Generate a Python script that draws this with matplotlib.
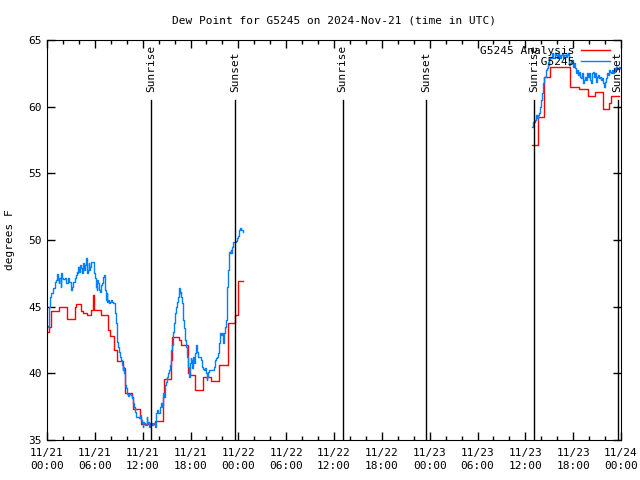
import numpy as np
import matplotlib
matplotlib.use("Agg")
import matplotlib.pyplot as plt
import matplotlib.dates as mdates

# hours after 2024-11-21 00:00 UTC
obs_day1_hours = [
    0.0, 0.13, 0.21, 0.29, 0.38, 0.46, 0.63, 0.79, 0.96, 1.13, 1.21, 1.30, 1.38, 1.46, 1.55,
    1.72, 1.80, 1.92, 2.05, 2.22, 2.38, 2.55, 2.64, 2.76, 2.89, 3.05, 3.14, 3.30, 3.47, 3.60,
    3.72, 3.81, 3.89, 4.06, 4.14, 4.22, 4.35, 4.48, 4.56, 4.64, 4.73, 4.81, 4.89, 4.98, 5.06,
    5.14, 5.23, 5.31, 5.40, 5.48, 5.56, 5.69, 5.81, 5.90, 5.98, 6.11, 6.23, 6.32, 6.44, 6.53,
    6.65, 6.73, 6.82, 6.94, 7.07, 7.15, 7.24, 7.32, 7.40, 7.49, 7.57, 7.65, 7.78, 7.91, 8.07,
    8.20, 8.32, 8.49, 8.57, 8.66, 8.74, 8.83, 8.95, 9.08, 9.16, 9.29, 9.41, 9.49, 9.58, 9.66,
    9.75, 9.83, 9.91, 10.0, 10.08, 10.21, 10.33, 10.50, 10.62, 10.75, 10.83, 10.92, 11.04, 11.17,
    11.33, 11.50, 11.59, 11.67, 11.75, 11.88, 12.0, 12.09, 12.21, 12.34, 12.51, 12.59, 12.71,
    12.84, 12.92, 13.13, 13.34, 13.55, 13.67, 13.84, 13.97, 14.17, 14.30, 14.43, 14.51, 14.59,
    14.68, 14.80, 14.93, 15.09, 15.22, 15.35, 15.43, 15.51, 15.60, 15.68, 15.76, 15.85, 15.93,
    16.06, 16.18, 16.27, 16.39, 16.52, 16.60, 16.68, 16.77, 16.85, 16.94, 17.02, 17.10, 17.19,
    17.27, 17.35, 17.44, 17.52, 17.65, 17.77, 17.86, 17.94, 18.03, 18.11, 18.19, 18.28, 18.36,
    18.49, 18.61, 18.69, 18.78, 18.86, 18.95, 19.03, 19.20, 19.32, 19.45, 19.62, 19.74, 19.87,
    19.95, 20.03, 20.12, 20.20, 20.37, 20.58, 20.79, 20.99, 21.12, 21.20, 21.29, 21.41, 21.54,
    21.62, 21.71, 21.83, 21.96, 22.04, 22.12, 22.25, 22.38, 22.46, 22.54, 22.63, 22.71, 22.79,
    22.88, 22.96, 23.04, 23.13, 23.21, 23.30, 23.42, 23.55, 23.71, 23.84, 23.92, 24.05, 24.13,
    24.26, 24.38, 24.55,
]
obs_day1_dewpt = [
    43.55, 43.5, 44.25, 45.0, 45.75, 46.0, 46.05, 46.38, 46.88, 47.0, 47.38, 47.45, 47.0, 46.75, 47.13,
    46.5, 47.5, 47.13, 47.05, 47.13, 46.75, 46.75, 47.13, 46.88, 46.88, 46.25, 46.5, 46.88, 47.13, 47.38,
    47.63, 47.5, 48.0, 47.63, 48.13, 47.88, 47.5, 47.88, 48.25, 47.75, 48.0, 48.13, 48.63, 48.13, 47.5,
    47.75, 48.25, 47.75, 48.0, 48.13, 48.38, 48.38, 48.38, 47.5, 47.13, 46.5, 46.25, 47.0, 46.75, 46.25,
    46.13, 46.5, 46.63, 46.75, 47.25, 47.38, 47.0, 46.25, 45.5, 46.0, 45.38, 45.5, 45.25, 45.38, 45.5,
    45.38, 45.25, 45.25, 44.5, 43.75, 42.75, 42.38, 42.0, 41.63, 41.25, 41.0, 40.63, 40.25, 40.5, 40.0,
    39.5, 39.13, 38.88, 38.5, 38.45, 38.3, 38.45, 38.38, 38.13, 37.88, 37.75, 37.5, 37.13, 36.75,
    36.75, 36.75, 36.63, 36.88, 36.5, 36.25, 36.0, 36.38, 36.25, 36.13, 36.75, 36.25, 36.38,
    36.0, 36.25, 36.13, 36.3, 36.0, 37.0, 37.25, 37.0, 37.5, 37.75, 37.5, 38.25, 38.5,
    38.25, 39.13, 39.38, 39.75, 40.0, 40.25, 40.63, 41.25, 41.75, 42.13, 42.75, 43.13, 43.75,
    44.5, 45.0, 45.38, 45.75, 46.13, 46.38, 46.0, 46.13, 45.75, 45.25, 44.75, 44.0, 43.38,
    42.75, 42.5, 42.0, 41.25, 40.5, 40.0, 39.75, 40.75, 41.13, 41.0, 40.38, 40.5, 41.25,
    40.75, 41.5, 42.13, 41.88, 41.63, 41.25, 41.25, 41.25, 41.0, 40.5, 40.3, 40.25, 40.38,
    40.0, 39.5, 39.75, 40.13, 40.25, 40.25, 40.25, 40.5, 41.0, 41.13, 41.25, 41.5, 41.63,
    42.25, 43.0, 42.88, 43.0, 42.88, 42.25, 43.0, 43.5, 44.0, 45.0, 46.5, 47.75, 48.75,
    49.13, 49.0, 49.25, 49.0, 49.5, 49.88, 49.88, 49.88, 49.95, 50.13, 50.3, 50.5, 50.75,
    50.88, 50.75, 50.63,
]

obs_day3_hours = [
    60.85, 60.94, 61.02, 61.15, 61.27, 61.35, 61.48, 61.61, 61.77, 61.86, 61.98, 62.11, 62.19,
    62.27, 62.40, 62.53, 62.61, 62.73, 62.86, 62.94, 63.03, 63.11, 63.24, 63.36, 63.45, 63.53,
    63.66, 63.78, 63.86, 63.95, 64.07, 64.20, 64.28, 64.41, 64.53, 64.62, 64.70, 64.83, 64.91,
    65.04, 65.12, 65.20, 65.33, 65.45, 65.54, 65.66, 65.79, 65.99, 66.12, 66.25, 66.37, 66.50,
    66.62, 66.75, 66.87, 67.0, 67.12, 67.25, 67.38, 67.50, 67.63, 67.75, 67.88, 67.96, 68.09,
    68.21, 68.34, 68.46, 68.59, 68.71, 68.84, 68.96, 69.09, 69.22, 69.34, 69.47, 69.59, 69.72,
    69.84, 69.97, 70.09, 70.22, 70.34, 70.47, 70.60, 70.72, 70.85, 70.97, 71.10, 71.22, 71.35,
    71.47, 71.60, 71.75, 71.90,
]
obs_day3_dewpt = [
    58.45, 58.63, 58.88, 59.0, 59.0, 59.38, 59.13, 59.38, 59.5, 60.0, 60.5, 61.0, 61.38,
    61.75, 62.25, 62.63, 62.75, 62.88, 63.38, 63.13, 63.5, 63.75, 63.63, 64.0, 63.75, 63.63,
    63.88, 64.0, 63.88, 63.63, 64.0, 63.75, 63.88, 63.63, 63.88, 64.0, 63.63, 63.75, 63.88,
    64.0, 63.75, 63.88, 64.0, 63.63, 63.13, 63.25, 63.5, 63.0, 63.25, 62.88, 62.5, 62.75,
    62.38, 62.63, 62.25, 62.13, 62.5, 61.75, 62.0, 62.25, 62.0, 62.5, 62.25, 62.5, 62.0,
    61.75, 62.5, 62.63, 62.25, 62.5, 61.88, 62.25, 62.38, 62.13, 62.25, 62.0, 62.13, 61.75,
    61.5, 61.88, 62.13, 62.5, 62.38, 62.75, 62.63, 62.5, 62.75, 62.5, 62.88, 62.75, 63.0,
    62.88, 62.8, 63.0, 62.9,
]

# analysis: step start hours and values (last entry closes the step)
ana_day1_hours = [
    0.0, 0.25, 0.55, 1.5, 2.5, 3.5, 3.68, 4.22, 4.52, 5.06, 5.48, 5.77, 5.9, 6.73, 7.65,
    7.86, 8.45, 8.8, 9.5, 9.79, 10.71, 10.85, 11.67, 11.8, 13.6, 14.6, 14.7, 15.5, 15.64,
    16.6, 16.77, 17.68, 17.9, 18.6, 19.53, 20.55, 21.62, 22.65, 23.6, 23.9, 24.55,
]
ana_day1_dewpt = [
    43.1, 43.5, 44.7, 45.0, 44.1, 45.0, 45.2, 44.7, 44.55, 44.4, 44.75, 45.9, 44.75, 44.4, 43.25,
    42.8, 41.75, 40.95, 40.4, 38.5, 38.25, 37.3, 36.75, 36.2, 36.45, 38.25, 39.6, 41.0, 42.7,
    42.5, 42.1, 40.0, 39.9, 38.75, 39.75, 39.4, 40.6, 43.75, 44.4, 46.9, 46.9,
]
ana_day3_hours = [60.8, 61.6, 62.4, 63.1, 65.6, 66.79, 67.8, 68.72, 69.72, 70.45, 70.7, 71.7]
ana_day3_dewpt = [57.1, 59.2, 62.2, 62.95, 61.45, 61.3, 60.8, 61.1, 59.85, 60.3, 60.8, 60.8]

sun_times = ["2024-11-21T13:03", "2024-11-21T23:35", "2024-11-22T13:04",
             "2024-11-22T23:35", "2024-11-23T13:05", "2024-11-23T23:35"]
sun_labels = ["Sunrise", "Sunset", "Sunrise", "Sunset", "Sunrise", "Sunset"]

start = np.datetime64("2024-11-21T00:00")


def to_time(hours):
    return start + (np.array(hours) * 3600).astype("timedelta64[s]")


plt.rcParams["font.family"] = ["DejaVu Sans Mono"]
plt.rcParams["font.size"] = 8

fig = plt.figure(figsize=(6.4, 4.8), dpi=100)
ax = fig.add_axes([47 / 640, 40 / 480, 574 / 640, 400 / 480])

red = "#ff0000"
blue = "#0080ff"

ax.step(to_time(ana_day1_hours), ana_day1_dewpt, where="post", color=red, lw=1.0,
        label="G5245 Analysis")
ax.step(to_time(ana_day3_hours), ana_day3_dewpt, where="post", color=red, lw=1.0)
ax.step(to_time(obs_day1_hours), obs_day1_dewpt, where="post", color=blue, lw=1.0,
        label="         G5245")
ax.step(to_time(obs_day3_hours), obs_day3_dewpt, where="post", color=blue, lw=1.0)

# sunrise / sunset markers
for t, lab in zip(sun_times, sun_labels):
    x = np.datetime64(t)
    ax.plot([x, x], [0, 0.85], color="black", lw=1.0,
            transform=ax.get_xaxis_transform())
    ax.text(x, 0.87, lab, rotation=90, ha="center", va="bottom",
            transform=ax.get_xaxis_transform())

ax.set_xlim(to_time([0])[0], to_time([72])[0])
ax.set_ylim(35, 65)
ax.set_yticks(np.arange(35, 66, 5))
ax.xaxis.set_major_locator(mdates.HourLocator(byhour=range(0, 24, 6)))
ax.xaxis.set_minor_locator(mdates.HourLocator(byhour=range(0, 24, 2)))
ax.xaxis.set_major_formatter(mdates.DateFormatter("%m/%d\n%H:%M"))
ax.tick_params(which="both", direction="in", top=True, right=True, labelsize=8)
ax.tick_params(which="major", length=6, width=1)
ax.tick_params(which="minor", length=3, width=1)
ax.tick_params(axis="x", pad=6)
for lbl in ax.get_xticklabels():
    lbl.set_linespacing(1.3)

ax.set_ylabel("degrees F", labelpad=10)
ax.set_title("Dew Point for G5245 on 2024-Nov-21 (time in UTC)", fontsize=8, pad=12)

ax.legend(loc="upper right", bbox_to_anchor=(0.99, 1.0), frameon=False,
          markerfirst=False, handlelength=2.6, handletextpad=0.6,
          labelspacing=0.15, borderaxespad=0.1, fontsize=8)

fig.savefig("out.png", dpi=100)
